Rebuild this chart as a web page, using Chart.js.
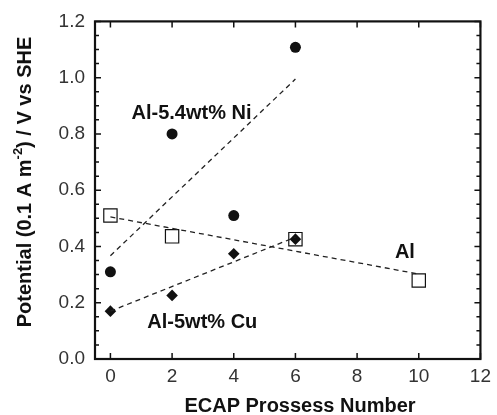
<!DOCTYPE html>
<html>
<head>
<meta charset="utf-8">
<script src="https://cdn.jsdelivr.net/npm/chart.js@4.4.0/dist/chart.umd.min.js"></script>
<style>
html, body { margin: 0; padding: 0; background: #fff; }
</style>
</head>
<body>
<canvas id="myChart" width="497" height="415"></canvas>
<script>
// values
const niX = [0, 2, 4, 6];
const niY = [0.31, 0.80, 0.51, 1.108];
const alX = [0, 2, 6, 10];
const alY = [0.51, 0.436, 0.426, 0.279];
const cuX = [0, 2, 4, 6];
const cuY = [0.17, 0.226, 0.374, 0.426];

// dashed fit lines (end points)
const niFitX = [0, 6];
const niFitY = [0.367, 0.995];
const alFitX = [0, 10];
const alFitY = [0.505, 0.302];
const cuFitX = [0, 6];
const cuFitY = [0.17, 0.433];

const xTicks = [0, 2, 4, 6, 8, 10, 12];
const yTicks = [0.0, 0.2, 0.4, 0.6, 0.8, 1.0, 1.2];
const seriesNames = ['Al-5.4wt% Ni', 'Al', 'Al-5wt% Cu'];

const FONT = "'Liberation Sans', Arial, sans-serif";
const INK = '#111';

function pts(xs, ys) {
    return xs.map((x, i) => ({ x: x, y: ys[i] }));
}

function fitLine(xs, ys) {
    return {
        data: pts(xs, ys),
        showLine: true,
        borderColor: '#222',
        borderWidth: 1.3,
        borderDash: [5, 4],
        pointRadius: 0,
        fill: false
    };
}

// series labels placed in data units
const notes = [
    { text: seriesNames[0], x: 2.63, y: 0.872 },
    { text: seriesNames[1], x: 9.55, y: 0.38 },
    { text: seriesNames[2], x: 2.98, y: 0.131 }
];

const framePlugin = {
    id: 'frame',
    afterDraw(chart) {
        const ctx = chart.ctx;
        const a = chart.chartArea;
        const xs = chart.scales.x, ys = chart.scales.y;
        ctx.save();
        ctx.strokeStyle = INK;

        // ticks pointing inward
        ctx.lineWidth = 1.5;
        ctx.beginPath();
        xTicks.forEach(v => {
            const px = xs.getPixelForValue(v);
            ctx.moveTo(px, a.bottom); ctx.lineTo(px, a.bottom - 6);
            ctx.moveTo(px, a.top); ctx.lineTo(px, a.top + 6);
        });
        for (let i = 0; i <= 24; i++) {
            const v = i * 0.05;
            const py = ys.getPixelForValue(v);
            const len = i % 4 === 0 ? 6 : 4;
            ctx.moveTo(a.left, py); ctx.lineTo(a.left + len, py);
            ctx.moveTo(a.right, py); ctx.lineTo(a.right - len, py);
        }
        ctx.stroke();

        ctx.lineWidth = 2.2;
        ctx.strokeRect(a.left, a.top, a.right - a.left, a.bottom - a.top);

        // series labels
        ctx.fillStyle = INK;
        ctx.font = 'bold 20px ' + FONT;
        ctx.textAlign = 'center';
        ctx.textBaseline = 'middle';
        notes.forEach(n => {
            ctx.fillText(n.text, xs.getPixelForValue(n.x), ys.getPixelForValue(n.y));
        });

        // x axis title
        ctx.fillText('ECAP Prossess Number', 300, 406);

        // y axis title with superscript
        ctx.translate(25, 182);
        ctx.rotate(-Math.PI / 2);
        const big = 'bold 20px ' + FONT, small = 'bold 13px ' + FONT;
        const p1 = 'Potential (0.1 A m', p2 = '-2', p3 = ') / V vs SHE';
        ctx.font = big; const w1 = ctx.measureText(p1).width, w3 = ctx.measureText(p3).width;
        ctx.font = small; const w2 = ctx.measureText(p2).width;
        let x0 = -(w1 + w2 + w3) / 2;
        ctx.textAlign = 'left';
        ctx.font = big; ctx.fillText(p1, x0, 0);
        ctx.font = small; ctx.fillText(p2, x0 + w1, -7);
        ctx.font = big; ctx.fillText(p3, x0 + w1 + w2, 0);
        ctx.restore();
    }
};

const ctx = document.getElementById('myChart').getContext('2d');
new Chart(ctx, {
    type: 'scatter',
    data: {
        datasets: [
            fitLine(niFitX, niFitY),
            fitLine(alFitX, alFitY),
            fitLine(cuFitX, cuFitY),
            {
                label: seriesNames[0],
                data: pts(niX, niY),
                pointStyle: 'circle',
                pointRadius: 5.5,
                backgroundColor: INK,
                borderColor: INK,
                borderWidth: 0
            },
            {
                label: seriesNames[2],
                data: pts(cuX, cuY),
                pointStyle: 'rectRot',
                pointRadius: 5.8,
                backgroundColor: INK,
                borderColor: INK,
                borderWidth: 0
            },
            {
                label: seriesNames[1],
                data: pts(alX, alY),
                pointStyle: 'rect',
                pointRadius: 9.4,
                backgroundColor: 'rgba(0,0,0,0)',
                borderColor: INK,
                borderWidth: 1.2
            }
        ]
    },
    options: {
        responsive: false,
        animation: false,
        layout: { padding: { top: 21, right: 11, left: 0, bottom: 0 } },
        plugins: {
            legend: { display: false },
            tooltip: { enabled: false }
        },
        scales: {
            x: {
                type: 'linear',
                min: -0.5,
                max: 12,
                grid: { display: false, drawTicks: false },
                border: { display: false },
                afterBuildTicks: s => { s.ticks = xTicks.map(v => ({ value: v })); },
                afterFit: s => { s.height = 56; },
                ticks: {
                    font: { family: FONT, size: 19 },
                    color: '#333',
                    padding: 6,
                    maxRotation: 0,
                    autoSkip: false,
                    callback: v => String(v)
                }
            },
            y: {
                type: 'linear',
                min: 0,
                max: 1.2,
                grid: { display: false, drawTicks: false },
                border: { display: false },
                afterBuildTicks: s => { s.ticks = yTicks.map(v => ({ value: v })); },
                afterFit: s => { s.width = 95; },
                ticks: {
                    font: { family: FONT, size: 19 },
                    color: '#333',
                    padding: 10,
                    autoSkip: false,
                    callback: v => v.toFixed(1)
                }
            }
        }
    },
    plugins: [framePlugin]
});
</script>
</body>
</html>
